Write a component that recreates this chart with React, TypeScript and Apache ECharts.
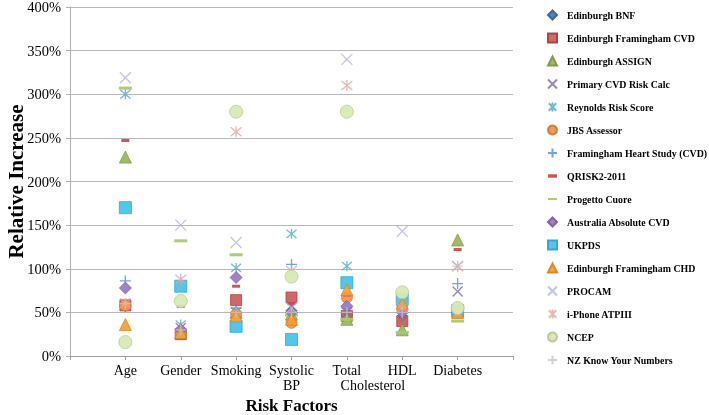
import React, { useEffect, useRef } from "react";
import * as echarts from "echarts";

const categories = ["Age", "Gender", "Smoking", "Systolic BP", "Total Cholesterol", "HDL", "Diabetes"];
const yTicks = [0, 50, 100, 150, 200, 250, 300, 350, 400];

const seriesNames = [
  "Edinburgh BNF",
  "Edinburgh Framingham CVD",
  "Edinburgh ASSIGN",
  "Primary CVD Risk Calc",
  "Reynolds Risk Score",
  "JBS Assessor",
  "Framingham Heart Study (CVD)",
  "QRISK2-2011",
  "Progetto Cuore",
  "Australia Absolute CVD",
  "UKPDS",
  "Edinburgh Framingham CHD",
  "PROCAM",
  "i-Phone ATPIII",
  "NCEP",
  "NZ Know Your Numbers",
];

const edinburghBNF = [57, 27, 50, 52, 47, 45, 50];
const edinburghFramCVD = [58, 25, 64, 67, 46, 40, 50];
const edinburghASSIGN = [228, 27, 50, 48, 42, 30, 133];
const primaryCVD = [60, 32, 50, 57, 50, 50, 74];
const reynolds = [300, 36, 101, 140, 103, 55, 50];
const jbsAssessor = [58, 27, 48, 38, 67, 55, 50];
const framinghamHeart = [86, 28, 55, 105, 55, 45, 83];
const qrisk2 = [247, 57, 80, 60, 70, 45, 122];
const progettoCuore = [307, 132, 116, 47, 42, 27, 40];
const australiaCVD = [78, 30, 90, 50, 57, 50, 50];
const ukpds = [170, 80, 34, 19, 84, 65, 52];
const edinburghFramCHD = [36, 27, 46, 42, 76, 60, 50];
const procam = [319, 150, 130, 55, 340, 143, 103];
const iphoneATPIII = [60, 88, 257, 98, 310, 55, 103];
const ncep = [16, 63, 280, 91, 280, 73, 55];
const nzKnow = [60, 30, 50, 50, 50, 50, 103];

const allValues = [
  edinburghBNF, edinburghFramCVD, edinburghASSIGN, primaryCVD, reynolds, jbsAssessor,
  framinghamHeart, qrisk2, progettoCuore, australiaCVD, ukpds, edinburghFramCHD,
  procam, iphoneATPIII, ncep, nzKnow,
];

const CROSS = "path://M0,0L10,10M10,0L0,10";
const STAR = "path://M0,0L10,10M10,0L0,10M5,-1L5,11";
const PLUS = "path://M5,0L5,10M0,5L10,5";
const SHORT_DASH = "path://M0,0L8,0L8,3L0,3Z";
const LONG_DASH = "path://M0,0L13,0L13,3L0,3Z";

type Style = { symbol: string; size: number | number[]; color: string; border?: string; stroke?: boolean };
const styles: Style[] = [
  { symbol: "diamond", size: 11, color: "#4A7EBB", border: "#3A6498" },
  { symbol: "rect", size: 11, color: "#D0605C", border: "#A8403D" },
  { symbol: "triangle", size: 12, color: "#9BBB59", border: "#7D9A45" },
  { symbol: CROSS, size: 10, color: "#7F66A8", stroke: true },
  { symbol: STAR, size: 10, color: "#4BACC6", stroke: true },
  { symbol: "circle", size: 11, color: "#F79646", border: "#D37A2E" },
  { symbol: PLUS, size: 11, color: "#4A90D0", stroke: true },
  { symbol: SHORT_DASH, size: [8, 3], color: "#D04A48" },
  { symbol: LONG_DASH, size: [13, 3], color: "#A9C96B" },
  { symbol: "diamond", size: 12, color: "#9A7CC7", border: "#7C60A8" },
  { symbol: "rect", size: 12, color: "#45C6EC", border: "#2FA6CC" },
  { symbol: "triangle", size: 12, color: "#F9A034", border: "#DA8420" },
  { symbol: CROSS, size: 11, color: "#B3B5DD", stroke: true },
  { symbol: STAR, size: 11, color: "#E4A5A5", stroke: true },
  { symbol: "circle", size: 13, color: "#D8EAB4", border: "#B5C89A" },
  { symbol: PLUS, size: 11, color: "#C4C4C4", stroke: true },
];

export default function App() {
  const ref = useRef<HTMLDivElement>(null);
  useEffect(() => {
    if (!ref.current) return;
    const chart = echarts.init(ref.current, undefined, { renderer: "svg" });
    const font = "Liberation Serif";
    const series = seriesNames.map((name, i) => {
      const s = styles[i];
      return {
        name,
        type: "scatter",
        symbol: s.symbol,
        symbolSize: s.size,
        itemStyle: s.stroke
          ? { color: "transparent", borderColor: s.color, borderWidth: 1.3 }
          : { color: s.color, borderColor: s.border || s.color, borderWidth: s.border ? 0.8 : 0, opacity: 0.95 },
        data: allValues[i].map((v, j) => [j + 1, v]),
      };
    });
    chart.setOption({
      animation: false,
      textStyle: { fontFamily: font },
      grid: { left: 70, right: 196, top: 7, bottom: 59, outerBoundsMode: "none", containLabel: false },
      legend: {
        orient: "vertical",
        left: 547,
        top: 9,
        padding: 0,
        itemWidth: 9,
        itemHeight: 9,
        itemGap: 11,
        symbolKeepAspect: true,
        textStyle: { fontFamily: font, fontSize: 9.9, lineHeight: 12, color: "#000", fontWeight: "bold", padding: [0, 0, 0, 5] },
        data: seriesNames,
      },
      xAxis: {
        type: "value",
        min: 0,
        max: 8,
        interval: 1,
        name: "Risk Factors",
        nameLocation: "middle",
        nameGap: 41,
        nameMoveOverlap: false,
        nameTextStyle: { fontFamily: font, fontSize: 17, fontWeight: "bold", color: "#000", verticalAlign: "top", lineHeight: 17 },
        axisLine: { show: true, lineStyle: { color: "#A0A0A0" } },
        axisTick: { show: true, length: 4, lineStyle: { color: "#A0A0A0" } },
        splitLine: { show: false },
        axisLabel: {
          fontFamily: font,
          fontSize: 14,
          color: "#000",
          lineHeight: 15,
          margin: 7,
          formatter: (v: number) => {
            const c = categories[v - 1];
            if (!c) return "";
            if (c === "Total Cholesterol") return "{a|Total}\n{b|Cholesterol}";
            if (c === "Systolic BP") return "Systolic\nBP";
            return c;
          },
          rich: {
            a: { fontFamily: font, fontSize: 14, color: "#000", lineHeight: 15 },
            b: { fontFamily: font, fontSize: 14, color: "#000", lineHeight: 15, padding: [0, 0, 0, 52] },
          },
        },
      },
      yAxis: {
        type: "value",
        min: 0,
        max: 400,
        interval: 50,
        name: "Relative Increase",
        nameLocation: "middle",
        nameGap: 44,
        nameMoveOverlap: false,
        nameTextStyle: { fontFamily: font, fontSize: 21, fontWeight: "bold", color: "#000" },
        axisLine: { show: true, lineStyle: { color: "#B0B0B0" } },
        axisTick: { show: true, length: 4, lineStyle: { color: "#B0B0B0" } },
        splitLine: { show: true, lineStyle: { color: "#B8B8B8", width: 1 } },
        axisLabel: {
          fontFamily: font,
          fontSize: 14.5,
          color: "#000",
          margin: 9,
          formatter: (v: number) => (yTicks.includes(v) ? v + "%" : ""),
        },
      },
      series,
    });
    return () => chart.dispose();
  }, []);
  return <div ref={ref} style={{ position: "fixed", left: 0, top: 0, width: 709, height: 415 }} />;
}
